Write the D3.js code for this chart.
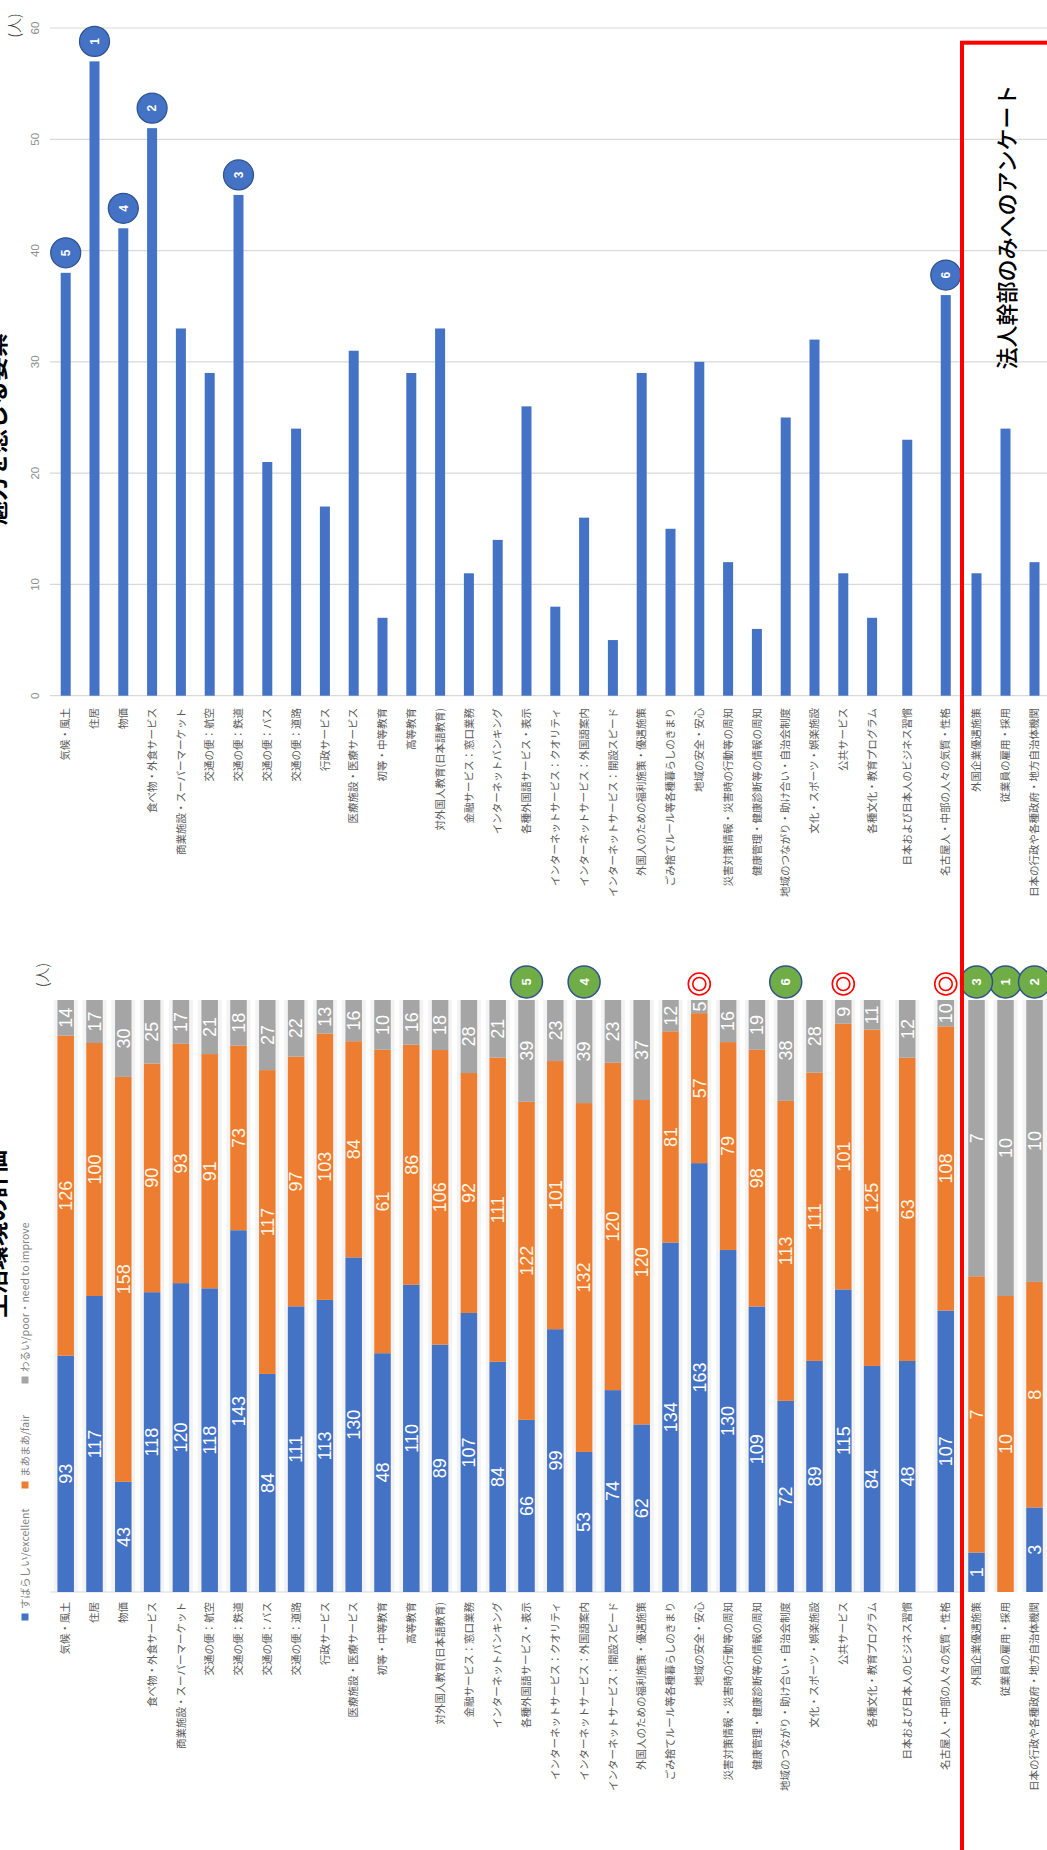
<!DOCTYPE html>
<html><head><meta charset="utf-8">
<script src="https://cdn.jsdelivr.net/npm/d3@7"></script>
<style>html,body{margin:0;padding:0;background:#fff;} svg{display:block}</style>
</head><body>
<svg id="c" width="1047" height="1850"></svg>
<script>
// ---------------- data ----------------
const catsResident = ["気候・風土","住居","物価","食べ物・外食サービス","商業施設・スーパーマーケット","交通の便：航空","交通の便：鉄道","交通の便：バス","交通の便：道路","行政サービス","医療施設・医療サービス","初等・中等教育","高等教育","対外国人教育(日本語教育)","金融サービス：窓口業務","インターネットバンキング","各種外国語サービス・表示","インターネットサービス：クオリティ","インターネットサービス：外国語案内","インターネットサービス：開設スピード","外国人のための福利施策・優遇施策","ごみ捨てルール等各種暮らしのきまり","地域の安全・安心","災害対策情報・災害時の行動等の周知","健康管理・健康診断等の情報の周知","地域のつながり・助け合い・自治会制度","文化・スポーツ・娯楽施設","公共サービス","各種文化・教育プログラム"];
const catsJapan = ["日本および日本人のビジネス習慣","名古屋人・中部の人々の気質・性格"];
const catsCorporate = ["外国企業優遇施策","従業員の雇用・採用","日本の行政や各種政府・地方自治体機関"];
const categories = catsResident.concat(catsJapan, catsCorporate);

const attractive = [38,57,42,51,33,29,45,21,24,17,31,7,29,33,11,14,26,8,16,5,29,15,30,12,6,25,32,11,7,23,36,11,24,12];
const attractiveTicks = [0,10,20,30,40,50,60];
const attractiveRanks = [["住居",1],["食べ物・外食サービス",2],["交通の便：鉄道",3],["物価",4],["気候・風土",5],["名古屋人・中部の人々の気質・性格",6]];

const excellent = [93,117,43,118,120,118,143,84,111,113,130,48,110,89,107,84,66,99,53,74,62,134,163,130,109,72,89,115,84,48,107,1,0,3];
const fair      = [126,100,158,90,93,91,73,117,97,103,84,61,86,106,92,111,122,101,132,120,120,81,57,79,98,113,111,101,125,63,108,7,10,8];
const poor      = [14,17,30,25,17,21,18,27,22,13,16,10,16,18,28,21,39,23,39,23,37,12,5,16,19,38,28,9,11,12,10,7,10,10];
const seriesKeys = ["excellent","fair","poor"];
const seriesNames = ["すばらしい/excellent","まあまあ/fair","わるい/poor・need to improve"];
const improveRanks = [["従業員の雇用・採用",1],["日本の行政や各種政府・地方自治体機関",2],["外国企業優遇施策",3],["インターネットサービス：外国語案内",4],["各種外国語サービス・表示",5],["地域のつながり・助け合い・自治会制度",6]];
const doubleCircleMarks = ["地域の安全・安心","公共サービス","名古屋人・中部の人々の気質・性格"];

const unitLabel = "(人)";
const boxLabel = "法人幹部のみへのアンケート";
const titleTop = "魅力を感じる要素";
const titleBottom = "生活環境の評価";

// ---------------- layout ----------------
const svg = d3.select("#c");
const JP = "'Noto Sans CJK JP','Noto Sans',sans-serif";
const NUM = "'Liberation Sans','DejaVu Sans',sans-serif";
const colors = {excellent:"#4472C4", fair:"#ED7D31", poor:"#A5A5A5"};
const labelColors = {excellent:"#ffffff", fair:"#fff6e4", poor:"#ffffff"};

const xRes = d3.scaleBand().domain(catsResident).range([51.3, 886.5]);
const xJap = d3.scaleBand().domain(catsJapan).range([888, 965]);
const xCorp = d3.scaleBand().domain(catsCorporate).range([962, 1049]);
function xc(c){
  const s = catsResident.includes(c) ? xRes : (catsJapan.includes(c) ? xJap : xCorp);
  return s(c) + s.bandwidth()/2;
}
function rotText(g, x, y, txt){
  return g.append("text").attr("transform", `translate(${x},${y}) rotate(-90)`).attr("dy","0.35em").text(txt);
}

// ---------------- top chart ----------------
const yT = d3.scaleLinear().domain([0,60]).range([695.7, 28]);
const gT = svg.append("g");
gT.selectAll("line.grid").data(attractiveTicks).join("line")
  .attr("x1", 50).attr("x2", 1047)
  .attr("y1", d=>yT(d)).attr("y2", d=>yT(d))
  .attr("stroke", "#d9d9d9").attr("stroke-width", 1.2);
attractiveTicks.forEach(t=>{
  rotText(gT, 35, yT(t), t).attr("text-anchor","middle")
    .attr("font-family", NUM).attr("font-size", 11.5).attr("fill", "#8c8c8c");
});
gT.selectAll("rect.bar").data(categories).join("rect")
  .attr("x", d=>xc(d)-5).attr("width", 10)
  .attr("y", (d,i)=>yT(attractive[i]))
  .attr("height", (d,i)=>yT(0)-yT(attractive[i]))
  .attr("fill", "#4472C4");
categories.forEach(c=>{
  rotText(gT, xc(c), 708, c).attr("text-anchor","end")
    .attr("font-family", JP).attr("font-size", 10.5).attr("fill", "#595959");
});
attractiveRanks.forEach(([c,r])=>{
  const v = attractive[categories.indexOf(c)];
  const cy = yT(v) - 20;
  gT.append("circle").attr("cx", xc(c)).attr("cy", cy).attr("r", 15)
    .attr("fill", "#4472C4").attr("stroke", "#2F528F").attr("stroke-width", 1.2);
  rotText(gT, xc(c), cy, r).attr("text-anchor","middle")
    .attr("font-family", NUM).attr("font-weight","bold").attr("font-size", 12).attr("fill","#fff");
});
rotText(gT, 14.5, 25.5, unitLabel).attr("text-anchor","middle")
  .attr("font-family", JP).attr("font-weight", 300).attr("font-size", 15).attr("fill","#333");
rotText(gT, -3, 333, titleTop).attr("text-anchor","end")
  .attr("font-family", JP).attr("font-weight","bold").attr("font-size", 24).attr("fill","#000");

// ---------------- bottom chart ----------------
const yB = d3.scaleLinear().domain([0,1]).range([1592, 1000]);
const rows = categories.map((c,i)=>({category:c, excellent:excellent[i], fair:fair[i], poor:poor[i]}));
const stacked = d3.stack().keys(seriesKeys).offset(d3.stackOffsetExpand)(rows);
const gB = svg.append("g");
gB.selectAll("rect.bg").data(categories).join("rect")
  .attr("x", d=>xc(d)-12).attr("width", 24)
  .attr("y", yB(1)).attr("height", yB(0)-yB(1))
  .attr("fill", "#f3f3f3");
gB.append("line").attr("x1", 50).attr("x2", 960).attr("y1", yB(0)).attr("y2", yB(0))
  .attr("stroke", "#d9d9d9").attr("stroke-width", 1);
stacked.forEach(layer=>{
  const key = layer.key;
  gB.selectAll("rect.s-"+key).data(layer).join("rect")
    .attr("x", d=>xc(d.data.category)-8.25).attr("width", 16.5)
    .attr("y", d=>yB(d[1])).attr("height", d=>yB(d[0])-yB(d[1]))
    .attr("fill", colors[key]);
  layer.forEach(d=>{
    const v = d.data[key];
    if (v > 0) {
      rotText(gB, xc(d.data.category), (yB(d[0])+yB(d[1]))/2, v).attr("text-anchor","middle")
        .attr("font-family", NUM).attr("font-size", 18).attr("fill", labelColors[key]);
    }
  });
});
categories.forEach(c=>{
  rotText(gB, xc(c), 1602, c).attr("text-anchor","end")
    .attr("font-family", JP).attr("font-size", 10.5).attr("fill", "#595959");
});
improveRanks.forEach(([c,r])=>{
  gB.append("circle").attr("cx", xc(c)).attr("cy", 982).attr("r", 16)
    .attr("fill", "#70AD47").attr("stroke", "#2F528F").attr("stroke-width", 1.5);
  rotText(gB, xc(c), 982, r).attr("text-anchor","middle")
    .attr("font-family", NUM).attr("font-weight","bold").attr("font-size", 13).attr("fill","#fff");
});
doubleCircleMarks.forEach(c=>{
  [11, 6.5].forEach(rr=>{
    gB.append("circle").attr("cx", xc(c)).attr("cy", 984).attr("r", rr)
      .attr("fill","none").attr("stroke","#FF0000").attr("stroke-width", 1.6);
  });
});
// legend
const legendY = [1617, 1485, 1380];
seriesKeys.forEach((k,i)=>{
  gB.append("rect").attr("x", 21.5).attr("y", legendY[i]-3.5).attr("width", 7).attr("height", 7).attr("fill", colors[k]);
  rotText(gB, 25, legendY[i]-8, seriesNames[i]).attr("text-anchor","start")
    .attr("font-family", JP).attr("font-size", 10.5).attr("fill", "#7f7f7f");
});
rotText(gB, 43, 975, unitLabel).attr("text-anchor","middle")
  .attr("font-family", JP).attr("font-weight", 300).attr("font-size", 15).attr("fill","#333");
rotText(gB, -3, 1150, titleBottom).attr("text-anchor","end")
  .attr("font-family", JP).attr("font-weight","bold").attr("font-size", 24).attr("fill","#000");

// ---------------- red box ----------------
svg.append("rect").attr("x", 962).attr("y", 42.7).attr("width", 200).attr("height", 2000)
  .attr("fill","none").attr("stroke","#FF0000").attr("stroke-width", 4);
rotText(svg, 1007, 227, boxLabel).attr("text-anchor","middle")
  .attr("font-family", JP).attr("font-weight", 500).attr("font-size", 22).attr("fill","#000");
</script>
</body></html>
